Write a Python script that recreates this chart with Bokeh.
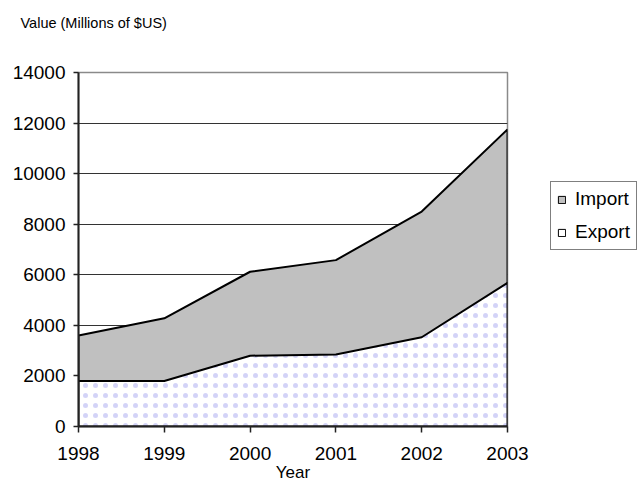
from bokeh.plotting import figure
from bokeh.layouts import row
from bokeh.models import ColumnDataSource, FixedTicker, Legend, LegendItem, Title, Range1d
from bokeh.embed import file_html
from bokeh.resources import INLINE

# Trade values, millions of US dollars
years = [1998, 1999, 2000, 2001, 2002, 2003]
imports = [3600, 4280, 6120, 6580, 8500, 11750]
exports = [1800, 1800, 2800, 2850, 3530, 5680]
y_ticks = [0, 2000, 4000, 6000, 8000, 10000, 12000, 14000]
series_names = ["Import", "Export"]

FONT = "Liberation Sans"
IMPORT_FILL = "#c0c0c0"
EXPORT_FILL = "white"

p = figure(width=540, height=484, output_backend="svg", toolbar_location=None,
           x_range=Range1d(1998, 2003), y_range=Range1d(0, 14000),
           min_border_left=78, min_border_right=33, min_border_top=72, min_border_bottom=56)
p.background_fill_color = "white"
p.border_fill_color = "white"
p.outline_line_color = "#8a8a8a"
p.outline_line_width = 1.5

# Areas drawn as closed polygons so the outline runs round each series
def polygon(xs, ys):
    return list(xs) + [xs[-1], xs[0]], list(ys) + [0, 0]

ix, iy = polygon(years, imports)
ex, ey = polygon(years, exports)
p.patch(ix, iy, fill_color=IMPORT_FILL, line_color="black", line_width=2)
p.patch(ex, ey, fill_color=EXPORT_FILL, line_color="black", line_width=2,
        hatch_pattern=".", hatch_color="#a8a8f0", hatch_scale=10,
        hatch_weight=1.5, hatch_alpha=0.5)

# Grid
p.xgrid.visible = False
p.ygrid.ticker = FixedTicker(ticks=y_ticks)
p.ygrid.grid_line_color = "#333333"
p.ygrid.grid_line_width = 1

# Axes
p.xaxis.ticker = FixedTicker(ticks=years)
p.yaxis.ticker = FixedTicker(ticks=y_ticks)
for ax in (p.xaxis[0], p.yaxis[0]):
    ax.axis_line_color = "#222222"
    ax.axis_line_width = 2
    ax.major_tick_line_color = "#222222"
    ax.major_tick_line_width = 1.5
    ax.major_tick_in = 0
    ax.minor_tick_line_color = None
    ax.major_label_text_font = FONT
    ax.major_label_text_font_size = "19px"
    ax.major_label_text_color = "black"
p.xaxis.major_tick_out = 6
p.yaxis.major_tick_out = 5
p.xaxis.major_label_standoff = 14
p.yaxis.major_label_standoff = 8

p.xaxis.axis_label = "Year"
p.xaxis.axis_label_text_font = FONT
p.xaxis.axis_label_text_font_size = "17px"
p.xaxis.axis_label_text_font_style = "normal"
p.xaxis.axis_label_text_color = "black"
p.xaxis.axis_label_standoff = 0

# Unit caption above the value axis, lifted by an empty spacer title
p.add_layout(Title(text=" ", text_font_size="22px"), "above")
p.add_layout(Title(text="Value (Millions of $US)", align="left", offset=-58,
                   text_font=FONT, text_font_size="14.5px", text_font_style="normal",
                   text_color="black"), "above")

# Legend panel to the right of the chart
lg = figure(width=100, height=484, output_backend="svg", toolbar_location=None,
            x_range=Range1d(0, 1), y_range=Range1d(0, 1),
            min_border_left=0, min_border_right=0, min_border_top=0, min_border_bottom=0)
lg.axis.visible = False
lg.grid.visible = False
lg.outline_line_color = None
lg.background_fill_color = "white"
lg.border_fill_color = "white"

# Swatch renderers sit outside the visible range; only their legend glyphs show
sw_src = ColumnDataSource(dict(left=[5], right=[6], top=[6], bottom=[5]))
swatches = [lg.quad(left="left", right="right", top="top", bottom="bottom", source=sw_src,
                    fill_color=c, line_color="black", line_width=1)
            for c in (IMPORT_FILL, EXPORT_FILL)]

legend = Legend(items=[LegendItem(label=n, renderers=[r], index=0)
                       for n, r in zip(series_names, swatches)],
                location=(10, 176), orientation="vertical",
                border_line_color="black", border_line_width=1,
                background_fill_color="white", background_fill_alpha=1,
                glyph_width=9, glyph_height=9, label_height=20, label_standoff=9,
                spacing=11, padding=6, margin=0,
                label_text_font=FONT, label_text_font_size="19px", label_text_color="black")
lg.add_layout(legend, "center")

layout = row(p, lg, spacing=0)
open("out.html", "w").write(file_html(layout, INLINE))
